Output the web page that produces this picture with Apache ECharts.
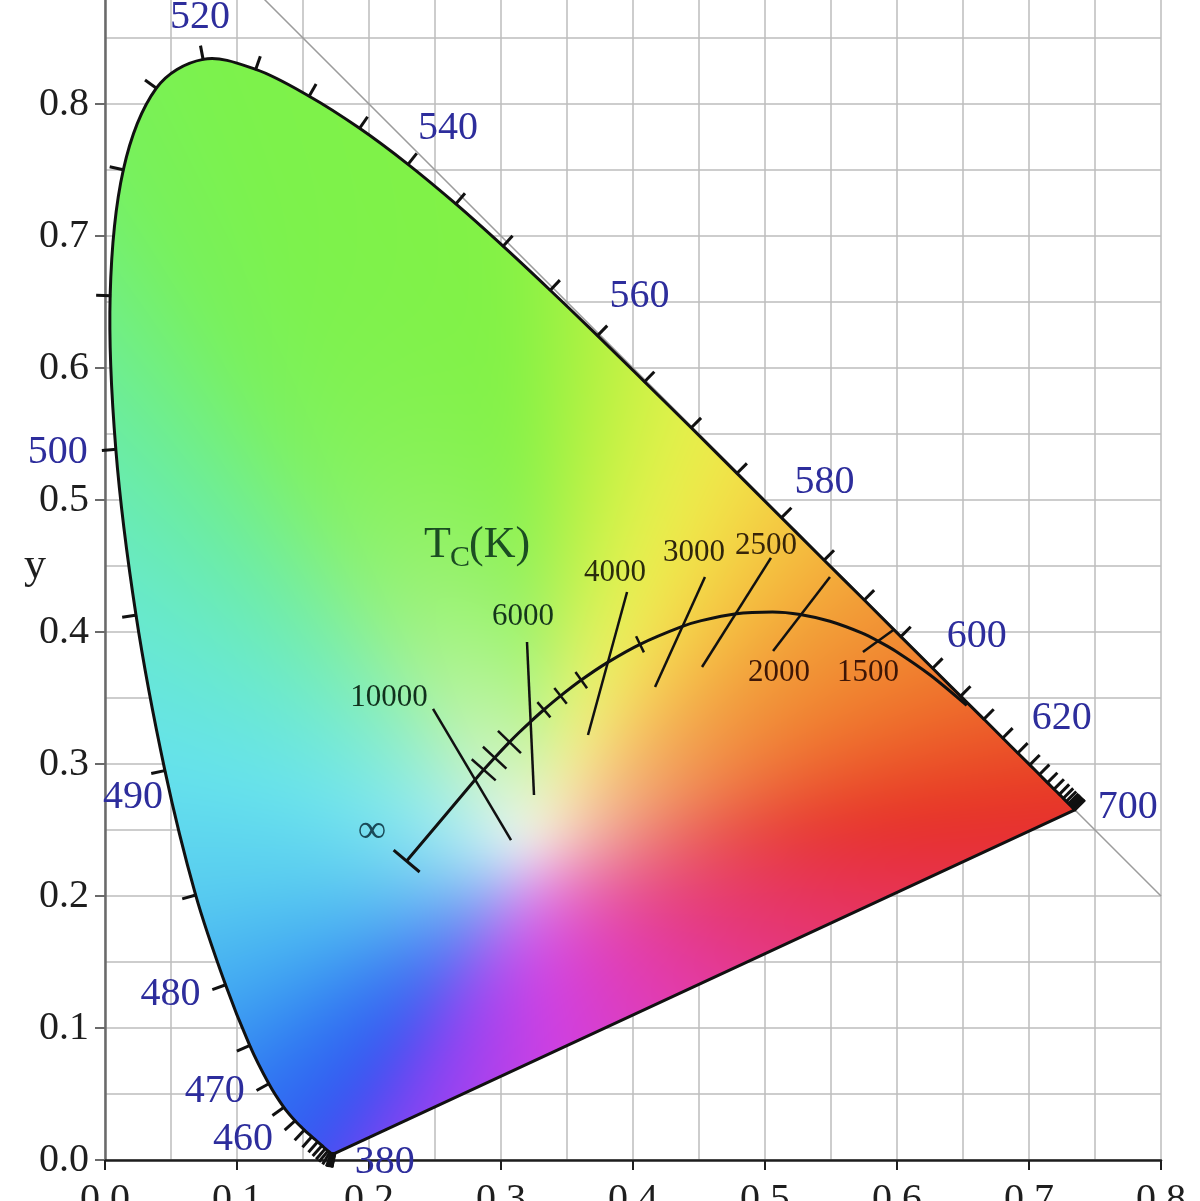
<!DOCTYPE html>
<html><head><meta charset="utf-8">
<script src="https://cdn.jsdelivr.net/npm/echarts/dist/echarts.min.js"></script>
<style>html,body{margin:0;padding:0;background:#fff}#c{width:1200px;height:1201px}</style>
</head><body><div id="c"></div>
<script>
// ---------- DATA ----------
const wavelengths = [380,385,390,395,400,405,410,415,420,425,430,435,440,445,450,455,460,465,470,475,480,485,490,495,500,505,510,515,520,525,530,535,540,545,550,555,560,565,570,575,580,585,590,595,600,605,610,615,620,625,630,635,640,645,650,655,660,665,670,675,680,685,690,695,700];
const locusX = [0.1741,0.1740,0.1738,0.1736,0.1733,0.1730,0.1726,0.1721,0.1714,0.1703,0.1689,0.1669,0.1644,0.1611,0.1566,0.1510,0.1440,0.1355,0.1241,0.1096,0.0913,0.0687,0.0454,0.0235,0.0082,0.0039,0.0139,0.0389,0.0743,0.1142,0.1547,0.1929,0.2296,0.2658,0.3016,0.3373,0.3731,0.4087,0.4441,0.4788,0.5125,0.5448,0.5752,0.6029,0.6270,0.6482,0.6658,0.6801,0.6915,0.7006,0.7079,0.7140,0.7190,0.7230,0.7260,0.7283,0.7300,0.7311,0.7320,0.7327,0.7334,0.7340,0.7344,0.7346,0.7347];
const locusY = [0.0050,0.0050,0.0049,0.0049,0.0048,0.0048,0.0048,0.0048,0.0051,0.0058,0.0069,0.0086,0.0109,0.0138,0.0177,0.0227,0.0297,0.0399,0.0578,0.0868,0.1327,0.2007,0.2950,0.4127,0.5384,0.6548,0.7502,0.8120,0.8338,0.8262,0.8059,0.7816,0.7543,0.7243,0.6923,0.6589,0.6245,0.5896,0.5547,0.5202,0.4866,0.4544,0.4242,0.3965,0.3725,0.3514,0.3340,0.3197,0.3083,0.2993,0.2920,0.2859,0.2809,0.2770,0.2740,0.2717,0.2700,0.2689,0.2680,0.2673,0.2666,0.2660,0.2656,0.2654,0.2653];
const labelledWavelengths = [380,460,470,480,490,500,520,540,560,580,600,620,700];

const planckTemps = [1000,1200,1400,1500,1600,1800,2000,2200,2500,2800,3000,3500,4000,4500,5000,5500,6000,6500,7000,8000,9000,10000,Infinity];
const planckX = [0.6528,0.6251,0.5985,0.5857,0.5732,0.5492,0.5267,0.5056,0.4770,0.4518,0.4369,0.4053,0.3805,0.3608,0.3451,0.3325,0.3221,0.3135,0.3064,0.2952,0.2869,0.2807,0.2285];
const planckY = [0.3444,0.3674,0.3858,0.3931,0.3993,0.4081,0.4133,0.4152,0.4137,0.4086,0.4041,0.3907,0.3768,0.3636,0.3516,0.3411,0.3318,0.3237,0.3166,0.3048,0.2956,0.2884,0.2265];

const isothermLabels = ['10000','6000','4000','3000','2500','2000','1500'];
const isothermX1 = [0.2485,0.3197,0.3955,0.4545,0.5045,0.5492,0.5980];
const isothermY1 = [0.3417,0.3924,0.4303,0.4417,0.4561,0.4417,0.4020];
const isothermX2 = [0.3076,0.3250,0.3659,0.4167,0.4523,0.5061,0.5742];
const isothermY2 = [0.2424,0.2765,0.3220,0.3583,0.3735,0.3856,0.3848];
const minorTickTemps = [9000,8000,7000,5500,5000,4500,3500];

const xTickLabels = ['0.0','0.1','0.2','0.3','0.4','0.5','0.6','0.7','0.8'];
const yTickLabels = ['0.0','0.1','0.2','0.3','0.4','0.5','0.6','0.7','0.8'];

// ---------- STYLE ----------
const X_MAX = 0.8, Y_MAX = 0.9;
const SERIF = '"Liberation Serif","Times New Roman",serif';
const BLUE = '#2d2d9c';
const WHITE_PT = [0.322, 0.238];
const WHITE_RGB = [246, 244, 246];
const SAT_POW = 3.3;
const BLUR_PX = 22, PAD = 70;
const edgePalette = [
 [380,[78,76,242]],[440,[60,82,242]],[460,[50,98,242]],[470,[48,116,242]],[475,[54,140,242]],
 [480,[68,172,242]],[485,[88,204,240]],[490,[102,226,236]],[495,[104,233,205]],[500,[106,236,165]],
 [505,[114,239,125]],[510,[120,241,92]],[520,[124,242,76]],[550,[130,242,70]],[555,[150,242,68]],
 [560,[178,242,66]],[565,[206,242,70]],[570,[230,240,76]],[575,[242,226,72]],[580,[244,202,66]],
 [585,[244,178,60]],[590,[242,156,55]],[600,[240,126,46]],[610,[237,98,42]],[620,[234,78,40]],
 [640,[232,58,38]],[700,[230,48,38]]
];
const purplePalette = [[0,[230,48,38]],[0.2,[231,50,72]],[0.4,[229,55,122]],[0.55,[226,60,175]],[0.7,[208,64,226]],[0.85,[150,66,242]],[1,[78,76,242]]];
const labelOffsets = {380:[50,9],460:[-52,19],470:[-54,8],480:[-55,10],490:[-32,27],500:[-58,3],520:[-3,-42],540:[40,-36],560:[42,-39],580:[43,-35],600:[44,-32],620:[44,-35],700:[53,-2]};
const minorTickLen = [16,16,16,10,10,10,9];
const isoLabelPos = [[0.2152,0.3500],[0.3167,0.4114],[0.3864,0.4447],[0.4462,0.4598],[0.5008,0.4652],[0.5106,0.3689],[0.5780,0.3689]];
const isoLabelColor = ['#10301c','#15361a','#2a2c0c','#2e250c','#382509','#3e1606','#3e1606'];

function paletteAt(pal, v) {
  if (v <= pal[0][0]) return pal[0][1];
  for (let i = 0; i < pal.length - 1; i++) {
    const a = pal[i], b = pal[i+1];
    if (v <= b[0]) { const t = (v - a[0]) / (b[0] - a[0]); return [0,1,2].map(k => a[1][k] + (b[1][k]-a[1][k]) * t); }
  }
  return pal[pal.length-1][1];
}

function circBlur(arr, stride, N, radius, passes) {
  let src = arr;
  for (let p = 0; p < passes; p++) {
    const out = new Float32Array(src.length);
    for (let c = 0; c < stride; c++) {
      let sum = 0;
      for (let k = -radius; k <= radius; k++) sum += src[(((k % N) + N) % N) * stride + c];
      for (let b = 0; b < N; b++) {
        out[b*stride + c] = sum / (2*radius + 1);
        sum += src[((b + radius + 1) % N) * stride + c] - src[(((b - radius) % N + N) % N) * stride + c];
      }
    }
    src = out;
  }
  return src;
}

const gamutCache = {};
function gamutImage(w, h) {
  const key = w + 'x' + h; if (gamutCache[key]) return gamutCache[key];
  const n = wavelengths.length;
  const P = wavelengths.map((_, i) => [locusX[i], locusY[i]]);
  const Wx = WHITE_PT[0], Wy = WHITE_PT[1];
  const N = 2880; let D = new Float32Array(N), C = new Float32Array(N*3);
  for (let b = 0; b < N; b++) {
    const th = -Math.PI + b / N * 2 * Math.PI, ux = Math.cos(th), uy = Math.sin(th);
    let best = Infinity, col = WHITE_RGB;
    for (let k = 0; k < n; k++) {
      const A = P[k], B = P[(k+1) % n], ex = B[0]-A[0], ey = B[1]-A[1];
      const den = ux*ey - uy*ex; if (Math.abs(den) < 1e-12) continue;
      const wx = A[0]-Wx, wy = A[1]-Wy;
      const s = (wx*ey - wy*ex) / den, u = (wx*uy - wy*ux) / den;
      if (s > 0 && u >= -1e-9 && u <= 1 + 1e-9 && s < best) {
        best = s;
        col = k < n-1 ? paletteAt(edgePalette, wavelengths[k] + u*(wavelengths[k+1]-wavelengths[k])) : paletteAt(purplePalette, u);
      }
    }
    D[b] = isFinite(best) ? best : 1; C[b*3] = col[0]; C[b*3+1] = col[1]; C[b*3+2] = col[2];
  }
  D = circBlur(D, 1, N, 60, 3);
  C = circBlur(C, 3, N, 12, 2);
  const W2 = w + 2*PAD, H2 = h + 2*PAD;
  const cv = document.createElement('canvas'); cv.width = W2; cv.height = H2;
  const ctx = cv.getContext('2d'); const img = ctx.createImageData(W2, H2); const d = img.data;
  for (let py = 0; py < H2; py++) {
    const Y = Y_MAX - (py - PAD + 0.5) / h * Y_MAX;
    for (let px = 0; px < W2; px++) {
      const X = (px - PAD + 0.5) / w * X_MAX;
      const dx = X - Wx, dy = Y - Wy, r = Math.hypot(dx, dy);
      const fb = (Math.atan2(dy, dx) + Math.PI) / (2*Math.PI) * N;
      let i0 = Math.floor(fb); const fr = fb - i0; i0 = ((i0 % N) + N) % N; const i1 = (i0 + 1) % N;
      const dist = D[i0]*(1-fr) + D[i1]*fr;
      const t = Math.min(1, r / dist), f = 1 - Math.pow(1 - t, SAT_POW);
      const o = (py*W2 + px) * 4;
      for (let c = 0; c < 3; c++) {
        const e = C[i0*3+c]*(1-fr) + C[i1*3+c]*fr;
        d[o+c] = WHITE_RGB[c] + (e - WHITE_RGB[c]) * f;
      }
      d[o+3] = 255;
    }
  }
  ctx.putImageData(img, 0, 0);
  const out = document.createElement('canvas'); out.width = w; out.height = h;
  const octx = out.getContext('2d');
  try { octx.filter = 'blur(' + BLUR_PX + 'px)'; } catch (e) {}
  octx.drawImage(cv, -PAD, -PAD);
  gamutCache[key] = out; return out;
}

function smoothPath(pts, close) {
  const n = pts.length;
  const tan = pts.map((p, i) => {
    const a = pts[Math.max(0, i-1)], b = pts[Math.min(n-1, i+1)];
    const tx = b[0]-a[0], ty = b[1]-a[1], l = Math.hypot(tx, ty) || 1; return [tx/l, ty/l];
  });
  const f = v => v.toFixed(2);
  let d = 'M' + f(pts[0][0]) + ' ' + f(pts[0][1]);
  for (let i = 0; i < n-1; i++) {
    const p = pts[i], q = pts[i+1], L = Math.hypot(q[0]-p[0], q[1]-p[1]) / 3;
    d += ' C' + f(p[0]+tan[i][0]*L) + ' ' + f(p[1]+tan[i][1]*L) + ' ' + f(q[0]-tan[i+1][0]*L) + ' ' + f(q[1]-tan[i+1][1]*L) + ' ' + f(q[0]) + ' ' + f(q[1]);
  }
  if (close) d += ' Z';
  return d;
}

function pixelTangent(pts, i, minDist) {
  let j = i, k = i;
  while (j > 0 && Math.hypot(pts[j][0]-pts[i][0], pts[j][1]-pts[i][1]) < minDist) j--;
  while (k < pts.length-1 && Math.hypot(pts[k][0]-pts[i][0], pts[k][1]-pts[i][1]) < minDist) k++;
  const tx = pts[k][0]-pts[j][0], ty = pts[k][1]-pts[j][1], l = Math.hypot(tx, ty) || 1;
  return [tx/l, ty/l];
}

function textEl(x, y, text, font, color, align) {
  return { type: 'text', silent: true, style: { text, x, y, font, fill: color, align: align || 'center', verticalAlign: 'middle', textAlign: align || 'center', textVerticalAlign: 'middle' } };
}

const chart = echarts.init(document.getElementById('c'), null, { renderer: 'canvas' });
const gridLine = { color: '#bdbdbd', width: 1.5 };
chart.setOption({
  animation: false,
  backgroundColor: '#ffffff',
  grid: { left: 105, right: 39, top: -28, bottom: 41, containLabel: false, outerBoundsMode: 'none' },
  xAxis: {
    type: 'value', min: 0, max: X_MAX, interval: 0.1,
    axisLine: { show: true, onZero: false, lineStyle: { color: '#1e1e1e', width: 2.5 } },
    axisTick: { show: true, length: 10, lineStyle: { color: '#1e1e1e', width: 2 } },
    axisLabel: { margin: 20, fontSize: 40, fontFamily: SERIF, color: '#1e1e1e', formatter: v => xTickLabels[Math.round(v*10)] || '' },
    splitLine: { show: true, lineStyle: gridLine },
    minorTick: { show: false, splitNumber: 2 },
    minorSplitLine: { show: true, lineStyle: gridLine }
  },
  yAxis: {
    type: 'value', min: 0, max: Y_MAX, interval: 0.1,
    name: 'y', nameLocation: 'middle', nameRotate: 0, nameGap: 70, nameMoveOverlap: false,
    nameTextStyle: { fontSize: 44, fontFamily: SERIF, color: '#1e1e1e', align: 'center', verticalAlign: 'middle' },
    axisLine: { show: true, onZero: false, lineStyle: { color: '#6a6a6a', width: 2.5 } },
    axisTick: { show: true, length: 10, lineStyle: { color: '#6a6a6a', width: 2 } },
    axisLabel: { margin: 16, fontSize: 40, fontFamily: SERIF, color: '#1e1e1e', formatter: v => yTickLabels[Math.round(v*10)] || '' },
    splitLine: { show: true, lineStyle: gridLine },
    minorTick: { show: false, splitNumber: 2 },
    minorSplitLine: { show: true, lineStyle: gridLine }
  },
  series: [
    { type: 'line', name: 'x+y=1', z: 1, silent: true, symbol: 'none', data: [[0.1, 0.9], [0.8, 0.2]], lineStyle: { color: '#9c9c9c', width: 1.5 } },
    { type: 'custom', name: 'gamut', z: 2, silent: true, data: [[0, 0]],
      renderItem: (params, api) => {
        const pts = wavelengths.map((_, i) => api.coord([locusX[i], locusY[i]]));
        const tl = api.coord([0, Y_MAX]), br = api.coord([X_MAX, 0]);
        const img = gamutImage(Math.round(br[0]-tl[0]), Math.round(br[1]-tl[1]));
        return { type: 'path', shape: { pathData: smoothPath(pts, true) },
          style: { fill: { image: img, repeat: 'no-repeat', x: tl[0], y: tl[1] }, stroke: '#111', lineWidth: 3, lineJoin: 'round' } };
      } },
    { type: 'custom', name: 'wavelength ticks', z: 3, silent: true,
      data: wavelengths.map((w, i) => [locusX[i], locusY[i], i]),
      encode: { x: 0, y: 1 },
      renderItem: (params, api) => {
        const i = api.value(2);
        const pts = wavelengths.map((_, k) => api.coord([locusX[k], locusY[k]]));
        const t = pixelTangent(pts, i, 4), nrm = [t[1], -t[0]], p = pts[i], L = 14;
        const children = [{ type: 'line', silent: true, shape: { x1: p[0]-nrm[0], y1: p[1]-nrm[1], x2: p[0]+nrm[0]*L, y2: p[1]+nrm[1]*L }, style: { stroke: '#111', lineWidth: 3 } }];
        const w = wavelengths[i];
        if (labelledWavelengths.indexOf(w) >= 0) {
          const o = labelOffsets[w];
          children.push(textEl(p[0]+o[0], p[1]+o[1], String(w), '40px ' + SERIF, BLUE));
        }
        return { type: 'group', children };
      } },
    { type: 'line', name: 'Planckian locus', z: 4, silent: true, symbol: 'none', smooth: 0.3,
      data: planckX.map((x, i) => [x, planckY[i]]), lineStyle: { color: '#111', width: 3 } },
    { type: 'custom', name: 'isotherms', z: 4, silent: true,
      data: isothermLabels.map((l, i) => [isothermX1[i], isothermY1[i], isothermX2[i], isothermY2[i]]),
      encode: { x: [0, 2], y: [1, 3] },
      renderItem: (params, api) => {
        const a = api.coord([api.value(0), api.value(1)]), b = api.coord([api.value(2), api.value(3)]);
        const i = params.dataIndex, lp = api.coord(isoLabelPos[i]);
        return { type: 'group', children: [
          { type: 'line', silent: true, shape: { x1: a[0], y1: a[1], x2: b[0], y2: b[1] }, style: { stroke: '#111', lineWidth: 2.5 } },
          textEl(lp[0], lp[1], isothermLabels[i], '31px ' + SERIF, isoLabelColor[i])
        ] };
      } },
    { type: 'custom', name: 'minor ticks', z: 4, silent: true,
      data: minorTickTemps.map(T => { const k = planckTemps.indexOf(T); return [planckX[k], planckY[k], k]; }).concat([[planckX[planckX.length-1], planckY[planckY.length-1], planckX.length-1]]),
      encode: { x: 0, y: 1 },
      renderItem: (params, api) => {
        const k = api.value(2);
        const pts = planckX.map((x, i) => api.coord([x, planckY[i]]));
        const t = pixelTangent(pts, k, 6), nrm = [t[1], -t[0]], p = pts[k];
        const isInf = params.dataIndex >= minorTickTemps.length;
        const L = isInf ? 17 : minorTickLen[params.dataIndex];
        return { type: 'line', silent: true, shape: { x1: p[0]-nrm[0]*L, y1: p[1]-nrm[1]*L, x2: p[0]+nrm[0]*L, y2: p[1]+nrm[1]*L }, style: { stroke: '#111', lineWidth: isInf ? 3 : 2.5 } };
      } },
    { type: 'custom', name: 'annotations', z: 5, silent: true, data: [[0.2417, 0.4659]],
      encode: { x: 0, y: 1 },
      renderItem: (params, api) => {
        const a = api.coord([api.value(0), api.value(1)]);
        const inf = api.coord([0.2023, 0.2485]);
        const green = '#1b4d22';
        return { type: 'group', children: [
          textEl(a[0], a[1], 'T', '44px ' + SERIF, green, 'left'),
          textEl(a[0] + 26, a[1] + 13, 'C', '30px ' + SERIF, green, 'left'),
          textEl(a[0] + 45, a[1], '(K)', '44px ' + SERIF, green, 'left'),
          textEl(inf[0], inf[1], '∞', '40px ' + SERIF, '#1a4a58')
        ] };
      } }
  ]
});
</script></body></html>
